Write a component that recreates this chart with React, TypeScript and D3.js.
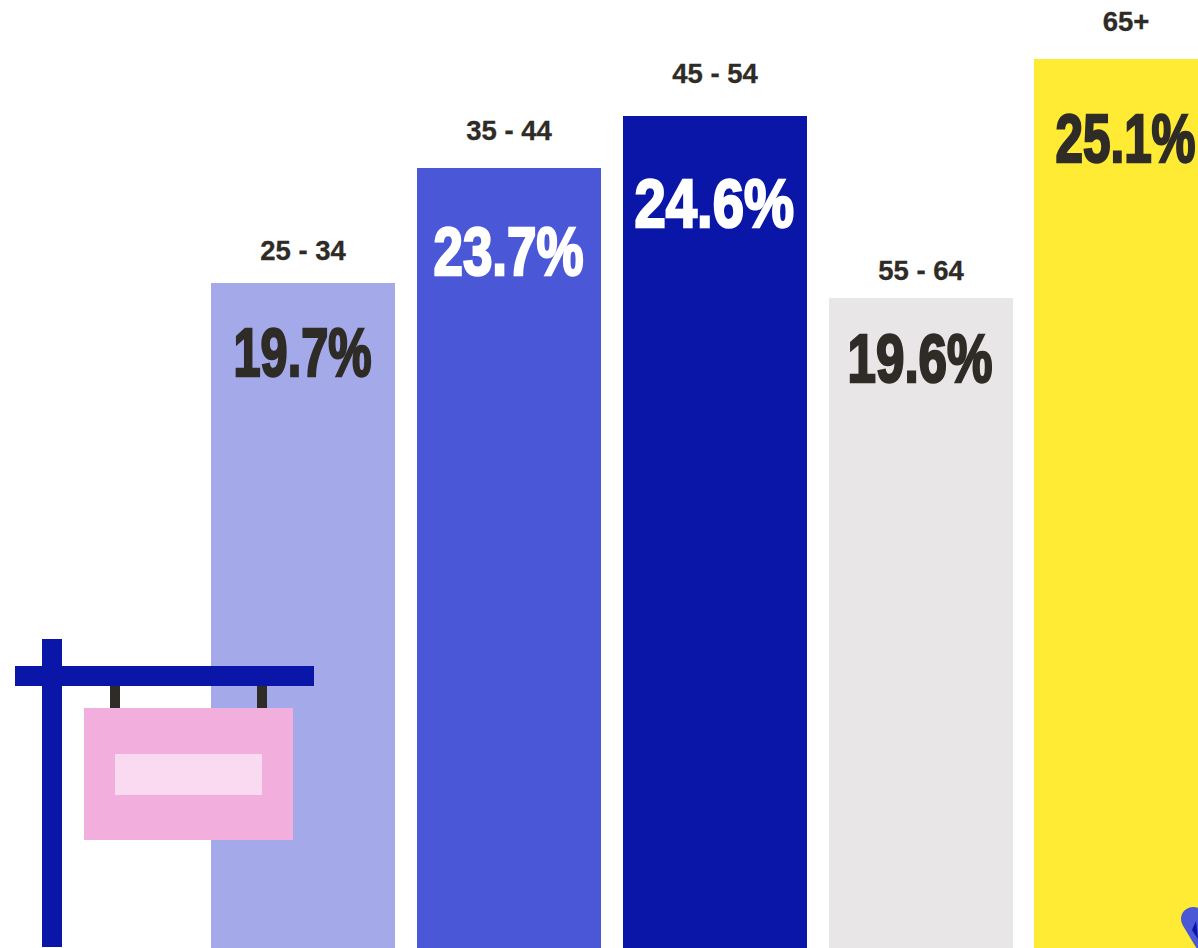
import React from 'react';
import * as d3 from 'd3';

const width = 1198;
const height = 948;

// age groups and the printed shares
const ageGroups = ['25 - 34', '35 - 44', '45 - 54', '55 - 64', '65+'];
const shareLabels = ['19.7%', '23.7%', '24.6%', '19.6%', '25.1%'];
// the bars are not proportional to the printed shares, so their heights are read off on their own
const barLevels = [665, 780, 832, 650, 889];

const barColors = ['#a4aae9', '#4a57d6', '#0916a7', '#e8e6e7', '#ffeb33'];
const shareColors = ['#2f2b26', '#ffffff', '#ffffff', '#2f2b26', '#2f2b26'];
const dark = '#2f2b26';

// the display face is condensed, so each label is squeezed to its measured width
const shareWidths = [138, 150, 159.5, 145, 140];
const shareShifts = [-0.5, -0.5, -0.8, -1, -0.5];
const shareOffsets = [92.5, 106.5, 110.5, 84, 103];
const groupOffsets = [23, 28.5, 33.5, 18.5, 28.5];

const x = d3.scaleBand<string>()
    .domain(ageGroups)
    .range([211, 1218.4])
    .paddingInner(0.10614);

const y = d3.scaleLinear()
    .domain([0, height])
    .range([height, 0]);

export default function App() {
    return (
        <svg
            width={width}
            height={height}
            viewBox={`0 0 ${width} ${height}`}
            style={{position: 'absolute', left: 0, top: 0, background: '#fff'}}
        >
            {ageGroups.map((group, i) => {
                const left = Math.round(x(group)!);
                const cx = left + 92;
                const top = y(barLevels[i]);
                return (
                    <g key={group}>
                        <rect
                            x={left}
                            y={top}
                            width={184}
                            height={height - top}
                            fill={barColors[i]}
                        />
                        <text
                            x={cx}
                            y={top - groupOffsets[i]}
                            textAnchor="middle"
                            fontFamily="'Liberation Sans', sans-serif"
                            fontWeight="700"
                            fontSize={27.5}
                            fill={dark}
                            stroke={dark}
                            strokeWidth={0.3}
                        >
                            {group}
                        </text>
                        <text
                            x={cx + shareShifts[i]}
                            y={top + shareOffsets[i]}
                            textAnchor="middle"
                            fontFamily="'Liberation Sans', sans-serif"
                            fontWeight="700"
                            fontSize={68}
                            textLength={shareWidths[i]}
                            lengthAdjust="spacingAndGlyphs"
                            fill={shareColors[i]}
                            stroke={shareColors[i]}
                            strokeWidth={2.5}
                        >
                            {shareLabels[i]}
                        </text>
                    </g>
                );
            })}

            {/* for sale sign */}
            <g>
                <rect x={42} y={639} width={20} height={308} fill="#0916a7" />
                <rect x={15} y={666} width={299} height={20} fill="#0916a7" />
                <rect x={110} y={686} width={10} height={22} fill={dark} />
                <rect x={257} y={686} width={10} height={22} fill={dark} />
                <rect x={84} y={708} width={209} height={132} fill="#f2aedc" />
                <rect x={115} y={754} width={147} height={41} fill="#f9daf0" />
            </g>

            {/* corner of the figure that is cut off by the frame */}
            <path d="M1193 919L1211 949" stroke="#4a57d6" strokeWidth={24} strokeLinecap="round" fill="none" />
            <path d="M1196 921L1192 930L1198 939Z" fill="#0916a7" />
        </svg>
    );
}
